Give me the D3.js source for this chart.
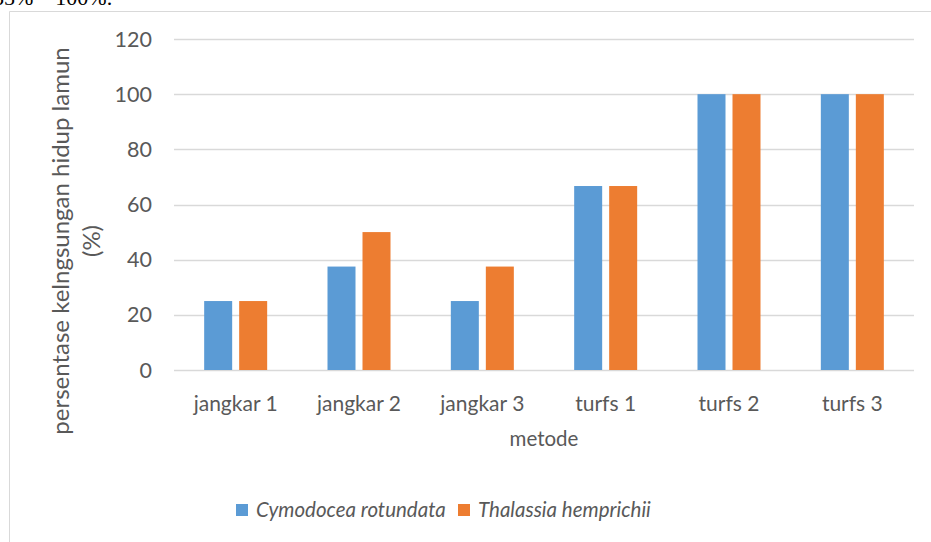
<!DOCTYPE html>
<html lang="id">
<head>
<meta charset="UTF-8">
<title>Kelangsungan hidup lamun</title>
<script src="https://d3js.org/d3.v7.min.js"></script>
<style>
    body { margin: 0; background: #fff; }
    svg { display: block; font-family: Lato, "Open Sans", sans-serif; }
</style>
</head>
<body>
<div id="chart"></div>
<script>
// data
const categories = ["jangkar 1", "jangkar 2", "jangkar 3", "turfs 1", "turfs 2", "turfs 3"];
const seriesNames = ["Cymodocea rotundata", "Thalassia hemprichii"];
const cymodocea = [25, 37.5, 25, 66.7, 100, 100];
const thalassia = [25, 50, 37.5, 66.7, 100, 100];
const yTicks = [0, 20, 40, 60, 80, 100, 120];
const colors = ["#5B9BD5", "#ED7D31"];

const W = 931, H = 542;
const margin = { left: 174, right: 17, top: 39, bottom: 172 };

const svg = d3.select("#chart").append("svg")
    .attr("width", W)
    .attr("height", H);

// cut off text from the document above the chart
svg.append("text")
    .attr("x", -7)
    .attr("y", 5)
    .attr("font-family", "Liberation Serif, serif")
    .attr("font-size", 22)
    .attr("fill", "#000")
    .text("35% \u2013 100%.");

// chart area border
svg.append("path")
    .attr("d", `M9.5,${H + 5} V11.5 H${W + 5}`)
    .attr("fill", "none")
    .attr("stroke", "#d9d9d9")
    .attr("stroke-width", 1);

const x = d3.scaleBand()
    .domain(categories)
    .range([margin.left, W - margin.right]);

const xInner = d3.scalePoint()
    .domain(seriesNames)
    .range([-17.5, 17.5]);

const y = d3.scaleLinear()
    .domain([0, 120])
    .range([H - margin.bottom, margin.top]);

// gridlines
svg.append("g")
    .selectAll("line")
    .data(yTicks)
    .join("line")
    .attr("x1", margin.left)
    .attr("x2", W - margin.right)
    .attr("y1", d => Math.round(y(d)) + 0.5)
    .attr("y2", d => Math.round(y(d)) + 0.5)
    .attr("stroke", "#d9d9d9")
    .attr("stroke-width", 1.3);

// y tick labels
svg.append("g")
    .selectAll("text")
    .data(yTicks)
    .join("text")
    .attr("x", 152)
    .attr("y", d => y(d))
    .attr("dy", "0.35em")
    .attr("text-anchor", "end")
    .attr("font-size", 21.5)
    .attr("fill", "#595959")
    .text(d => d);

// bars
const barW = 28;
const rows = categories.map((c, i) => [
    { cat: c, s: seriesNames[0], v: cymodocea[i], k: 0 },
    { cat: c, s: seriesNames[1], v: thalassia[i], k: 1 }
]).flat();

svg.append("g")
    .selectAll("rect")
    .data(rows)
    .join("rect")
    .attr("x", d => x(d.cat) + x.bandwidth() / 2 + xInner(d.s) - barW / 2)
    .attr("y", d => y(d.v))
    .attr("width", barW)
    .attr("height", d => y(0) - y(d.v))
    .attr("fill", d => colors[d.k]);

// x tick labels
svg.append("g")
    .selectAll("text")
    .data(categories)
    .join("text")
    .attr("x", d => x(d) + x.bandwidth() / 2)
    .attr("y", 411)
    .attr("text-anchor", "middle")
    .attr("font-size", 21)
    .attr("fill", "#595959")
    .text(d => d);

// axis titles
svg.append("text")
    .attr("x", (margin.left + W - margin.right) / 2)
    .attr("y", 446)
    .attr("text-anchor", "middle")
    .attr("font-size", 20.5)
    .attr("fill", "#595959")
    .text("metode");

const yTitle = svg.append("text")
    .attr("transform", "translate(0,241) rotate(-90)")
    .attr("text-anchor", "middle")
    .attr("font-size", 24)
    .attr("fill", "#595959");
yTitle.append("tspan").attr("x", 0).attr("y", 69).text("persentase kelngsungan hidup lamun");
yTitle.append("tspan").attr("x", 0).attr("y", 100).text("(%)");

// legend
const legendX = [236, 458];
const legend = svg.append("g")
    .selectAll("g")
    .data(seriesNames)
    .join("g")
    .attr("transform", (d, i) => `translate(${legendX[i]},510)`);
legend.append("rect")
    .attr("x", 0)
    .attr("y", -6)
    .attr("width", 12)
    .attr("height", 12)
    .attr("fill", (d, i) => colors[i]);
legend.append("text")
    .attr("x", 20)
    .attr("y", 0)
    .attr("dy", "0.35em")
    .attr("font-size", 20.5)
    .attr("font-style", "italic")
    .attr("fill", "#595959")
    .text(d => d);
</script>
</body>
</html>
